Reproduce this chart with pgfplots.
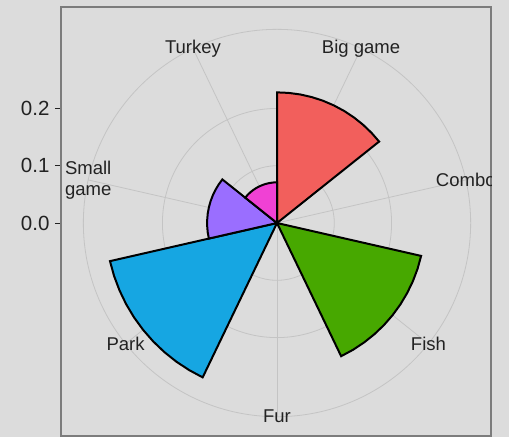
\documentclass[border=0pt]{standalone}
\usepackage{fontspec}
\setmainfont{Liberation Sans}
\usepackage{pgfplots}
\pgfplotsset{compat=1.18}
\definecolor{bg}{HTML}{DCDCDC}
\definecolor{gridc}{HTML}{C4C4C4}
\definecolor{border}{HTML}{7C7C7C}
\definecolor{txt}{HTML}{222222}
\definecolor{cBig}{HTML}{F25F5C}
\definecolor{cFish}{HTML}{47A800}
\definecolor{cPark}{HTML}{16A6E2}
\definecolor{cSmall}{HTML}{9A6EFF}
\definecolor{cTurkey}{HTML}{F041D4}
\begin{document}
\begin{tikzpicture}[x=1pt,y=1pt]
\fill[bg] (0,0) rectangle (509,437);
\useasboundingbox (0,0) rectangle (509,437);
\begin{axis}[
  at={(61pt,1pt)}, anchor=south west,
  scale only axis, width=430pt, height=429pt,
  xmin=-0.3770, xmax=0.3735, ymin=-0.3717, ymax=0.3770,
  xtick=\empty, ytick={0,0.1,0.2},
  /pgf/number format/assume math mode=true,
  yticklabel style={/pgf/number format/fixed, /pgf/number format/fixed zerofill,
     /pgf/number format/precision=1, font=\fontsize{20.5}{24}\selectfont, text=txt, xshift=-2pt},
  ytick pos=left, tick align=outside, major tick length=6pt,
  tick style={draw=txt, line width=1pt},
  axis line style={draw=border, line width=2.2pt},
  axis background/.style={fill=bg},
  clip=true,
]
% grid circles
\draw[gridc, line width=0.8pt] (axis cs:0,0) circle[radius=0.1];
\draw[gridc, line width=0.8pt] (axis cs:0,0) circle[radius=0.2];
\draw[gridc, line width=0.8pt] (axis cs:0,0) circle[radius=0.338];
% spokes
\addplot[gridc, line width=0.8pt, data cs=polar] coordinates {(0,0) (64.286,0.338)};
\addplot[gridc, line width=0.8pt, data cs=polar] coordinates {(0,0) (12.857,0.338)};
\addplot[gridc, line width=0.8pt, data cs=polar] coordinates {(0,0) (-38.571,0.338)};
\addplot[gridc, line width=0.8pt, data cs=polar] coordinates {(0,0) (-90,0.338)};
\addplot[gridc, line width=0.8pt, data cs=polar] coordinates {(0,0) (-141.429,0.338)};
\addplot[gridc, line width=0.8pt, data cs=polar] coordinates {(0,0) (167.143,0.338)};
\addplot[gridc, line width=0.8pt, data cs=polar] coordinates {(0,0) (115.714,0.338)};
% bars: Big game 0.228
\addplot[fill=cBig, draw=black, line width=2pt, data cs=polar] coordinates {
 (0,0) (90,0.228) (84.857,0.228) (79.714,0.228) (74.571,0.228) (69.429,0.228) (64.286,0.228)
 (59.143,0.228) (54,0.228) (48.857,0.228) (43.714,0.228) (38.571,0.228)} -- cycle;
% Fish 0.258
\addplot[fill=cFish, draw=black, line width=2pt, data cs=polar] coordinates {
 (0,0) (-12.857,0.258) (-18,0.258) (-23.143,0.258) (-28.286,0.258) (-33.429,0.258) (-38.571,0.258)
 (-43.714,0.258) (-48.857,0.258) (-54,0.258) (-59.143,0.258) (-64.286,0.258)} -- cycle;
% Park 0.299
\addplot[fill=cPark, draw=black, line width=2pt, data cs=polar] coordinates {
 (0,0) (-115.714,0.299) (-120.857,0.299) (-126,0.299) (-131.143,0.299) (-136.286,0.299) (-141.429,0.299)
 (-146.571,0.299) (-151.714,0.299) (-156.857,0.299) (-162,0.299) (-167.143,0.299)} -- cycle;
% Small game 0.122
\addplot[fill=cSmall, draw=black, line width=2pt, data cs=polar] coordinates {
 (0,0) (-167.143,0.122) (-172.286,0.122) (-177.429,0.122) (-182.571,0.122) (-187.714,0.122) (-192.857,0.122)
 (-198,0.122) (-203.143,0.122) (-208.286,0.122) (-213.429,0.122) (-218.571,0.122)} -- cycle;
% Turkey 0.071
\addplot[fill=cTurkey, draw=black, line width=2pt, data cs=polar] coordinates {
 (0,0) (-218.571,0.071) (-223.714,0.071) (-228.857,0.071) (-234,0.071) (-239.143,0.071) (-244.286,0.071)
 (-249.429,0.071) (-254.571,0.071) (-259.714,0.071) (-264.857,0.071) (-270,0.071)} -- cycle;
% category labels
\begin{scope}
\clip (rel axis cs:0,0) rectangle (rel axis cs:1,1);
\begin{scope}[every node/.style={font=\fontsize{18.5}{21}\selectfont, text=txt, align=center, inner sep=0pt}]
\node at (axis cs:0.1467,0.3045) {Big game};
\node at (axis cs:0.3295,0.0752) {Combo};
\node at (axis cs:0.2643,-0.2107) {Fish};
\node at (axis cs:0,-0.338) {Fur};
\node at (axis cs:-0.2643,-0.2107) {Park};
\node at (axis cs:-0.3295,0.0752) {Small\\game};
\node at (axis cs:-0.1467,0.3045) {Turkey};
\end{scope}
\end{scope}
\end{axis}
\end{tikzpicture}
\end{document}
